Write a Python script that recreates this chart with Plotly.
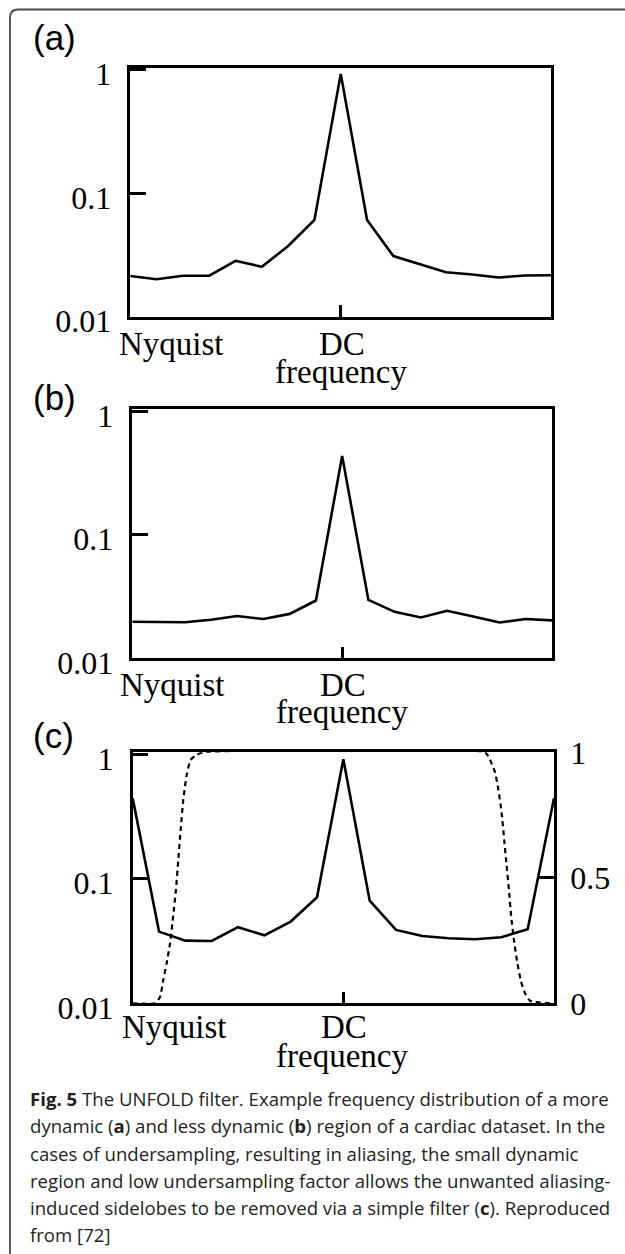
import plotly.graph_objects as go

# ---------------- data ----------------
freq_index = [-8, -7, -6, -5, -4, -3, -2, -1, 0, 1, 2, 3, 4, 5, 6, 7, 8]
mag_a = [0.0214, 0.0201, 0.0215, 0.0215, 0.0284, 0.0254, 0.0374, 0.0608, 0.929,
         0.0608, 0.0310, 0.0266, 0.0229, 0.0220, 0.0208, 0.0216, 0.0217]
mag_b = [0.0198, 0.0196, 0.0196, 0.0205, 0.0220, 0.0208, 0.0229, 0.0294, 0.437,
         0.0297, 0.0238, 0.0214, 0.0243, 0.0218, 0.0195, 0.0208, 0.0203]
mag_c = [0.445, 0.0377, 0.0319, 0.0317, 0.0409, 0.0352, 0.0454, 0.0712, 0.917,
         0.0669, 0.0389, 0.0348, 0.0333, 0.0327, 0.0340, 0.0394, 0.445]

filter_x = [-8, -7.15, -6.96, -6.84, -6.71, -6.58, -6.46, -6.36, -6.27, -6.18, -6.08,
            -5.95, -5.80, -5.57, -5.32, 5.38, 5.57, 5.76, 5.89, 6.01, 6.11, 6.20,
            6.29, 6.37, 6.48, 6.61, 6.74, 6.90, 7.09, 8]
filter_y = [0, 0, 0.026, 0.093, 0.16, 0.24, 0.35, 0.45, 0.57, 0.69, 0.81, 0.91, 0.97,
            0.99, 1.0, 1.0, 0.97, 0.92, 0.85, 0.76, 0.65, 0.55, 0.45, 0.35, 0.25,
            0.16, 0.09, 0.04, 0.01, 0]

left_tick_vals = [0.01, 0.1, 1]
left_tick_text = ["0.01", "0.1", "1"]
right_tick_vals = [0, 0.5, 1]
right_tick_text = ["0", "0.5", "1"]
panel_labels = ["(a)", "(b)", "(c)"]
caption_lines = [
    "<b>Fig. 5</b> The UNFOLD filter. Example frequency distribution of a more",
    "dynamic (<b>a</b>) and less dynamic (<b>b</b>) region of a cardiac dataset. In the",
    "cases of undersampling, resulting in aliasing, the small dynamic",
    "region and low undersampling factor allows the unwanted aliasing-",
    "induced sidelobes to be removed via a simple filter (<b>c</b>). Reproduced",
    "from [72]",
]

# ---------------- layout helpers (pixels -> paper) ----------------
W, H = 625, 1254


def fx(px):
    return px / W


def fy(py):
    return 1 - py / H


SERIF = "Liberation Serif, Times New Roman, serif"
SANS = "Liberation Sans, Arial, sans-serif"
CAP = "Open Sans, Noto Sans, sans-serif"

panels = [
    # x0, x1, ytop, ybottom
    (130.3, 551.2, 67.7, 316.7),
    (132.3, 552.0, 409.3, 658.3),
    (132.7, 554.0, 752.3, 1003.3),
]
label_y = [38, 397, 735]
nyq_x = [171.4, 172.4, 174.5]
dc_x = [341.5, 343.0, 344.0]
freq_x = [341.0, 342.0, 341.7]
base_nyq = [355, 696, 1038]
base_freq = [383, 723, 1067]

fig = go.Figure()
series = [mag_a, mag_b, mag_c]
layout = dict(
    width=W, height=H, margin=dict(l=0, r=0, t=0, b=0, pad=0, autoexpand=False),
    paper_bgcolor="white", plot_bgcolor="white", showlegend=False,
)
annotations = []
TICK_FS = 32
WORD_FS = 33

for i, (x0, x1, yt, yb) in enumerate(panels):
    n = "" if i == 0 else str(i + 1)
    xa, ya = "x" + n, "y" + n
    fig.add_trace(go.Scatter(x=freq_index, y=series[i], mode="lines",
                             line=dict(color="black", width=2.6),
                             xaxis=xa, yaxis=ya, hoverinfo="skip"))
    layout["xaxis" + n] = dict(
        domain=[fx(x0), fx(x1)], anchor=ya, range=[-8, 8], automargin=False,
        showgrid=False, zeroline=False, showline=True, mirror=True,
        linecolor="black", linewidth=2.5,
        tickvals=[0], ticktext=[""], ticks="inside", ticklen=12,
        tickwidth=2.5, tickcolor="black",
    )
    layout["yaxis" + n] = dict(
        domain=[fy(yb), fy(yt)], anchor=xa, type="log", range=[-2, 0.018],
        automargin=False,
        showgrid=False, zeroline=False, showline=True, mirror=True,
        linecolor="black", linewidth=2.5,
        tickvals=left_tick_vals, ticktext=left_tick_text,
        ticks="inside", ticklen=16, tickwidth=2.5, tickcolor="black",
        tickfont=dict(family=SERIF, size=TICK_FS, color="black"),
        ticklabelstandoff=10, ticklabelshift=4,
    )
    # panel label
    annotations.append(dict(text=panel_labels[i], xref="paper", yref="paper",
                            x=fx(31), y=fy(label_y[i]), xanchor="left",
                            yanchor="middle", showarrow=False,
                            font=dict(family=SANS, size=35, color="black")))
    for txt, xx, bb in [("Nyquist", nyq_x[i], base_nyq[i]),
                        ("DC", dc_x[i], base_nyq[i]),
                        ("frequency", freq_x[i], base_freq[i])]:
        annotations.append(dict(text=txt, xref="paper", yref="paper",
                                x=fx(xx), y=fy(bb - 0.3375 * WORD_FS),
                                xanchor="center", yanchor="middle",
                                showarrow=False,
                                font=dict(family=SERIF, size=WORD_FS, color="black")))

# secondary (linear) axis of panel c for the filter
fig.add_trace(go.Scatter(x=filter_x, y=filter_y, mode="lines",
                         line=dict(color="black", width=2.2, dash="5px,4px",
                                   shape="spline", smoothing=0.5),
                         xaxis="x3", yaxis="y4", hoverinfo="skip"))
layout["yaxis4"] = dict(
    overlaying="y3", side="right", anchor="x3", range=[0, 1], automargin=False,
    showgrid=False, zeroline=False, showline=True,
    linecolor="black", linewidth=2.5,
    tickvals=right_tick_vals, ticktext=right_tick_text,
    ticks="inside", ticklen=17, tickwidth=2.5, tickcolor="black",
    tickfont=dict(family=SERIF, size=TICK_FS, color="black"),
    ticklabelstandoff=7,
)

# caption
cap_fs = 18.6
for k, line in enumerate(caption_lines):
    base = 1106 + 27.2 * k
    annotations.append(dict(text=line, xref="paper", yref="paper",
                            x=fx(28), y=fy(base - 0.388 * cap_fs),
                            xanchor="left", yanchor="middle", align="left",
                            showarrow=False,
                            font=dict(family=CAP, size=cap_fs, color="#231f20")))

layout["annotations"] = annotations
layout["shapes"] = [dict(
    type="path", xref="paper", yref="paper",
    path=(f"M {fx(10)} {fy(1254)} L {fx(10)} {fy(18)} "
          f"Q {fx(10)} {fy(9.5)} {fx(18)} {fy(9.5)} L {fx(625)} {fy(9.5)}"),
    line=dict(color="#4a4a4a", width=1.8),
)]
fig.update_layout(**layout)

POST = (
    "document.documentElement.style.margin='0';"
    "document.documentElement.style.padding='0';"
    "document.documentElement.style.overflow='hidden';"
    "document.body.style.margin='0';"
    "document.body.style.padding='0';"
    "document.body.style.overflow='hidden';"
    "var g=document.querySelector('.plotly-graph-div');"
    "if(g){g.style.position='absolute';g.style.left='0px';g.style.top='0px';}"
)
fig.write_html("out.html", config={"displayModeBar": False}, post_script=POST)
